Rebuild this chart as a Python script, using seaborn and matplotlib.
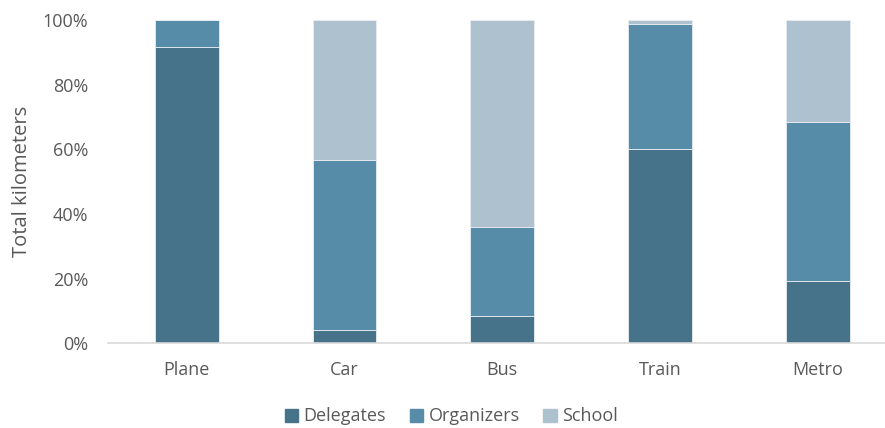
import pandas as pd
import numpy as np
import seaborn as sns
import matplotlib.pyplot as plt
from matplotlib.ticker import PercentFormatter

modes = ['Plane', 'Car', 'Bus', 'Train', 'Metro']
delegates = [91.6, 4.0, 8.3, 60.0, 19.4]
organizers = [8.4, 52.7, 27.8, 38.8, 49.1]
school = [0.0, 43.3, 63.9, 1.2, 31.5]

df = pd.DataFrame({'Mode': modes, 'Delegates': delegates,
                   'Organizers': organizers, 'School': school})
long = df.melt(id_vars='Mode', var_name='Group', value_name='Share')

custom_palette = {'Delegates': '#46728A', 'Organizers': '#568CA8', 'School': '#ADC1CE'}

sns.set_theme(style='white')
plt.rcParams['font.family'] = ['Open Sans', 'DejaVu Sans']

fig, ax = plt.subplots(figsize=(8.85, 4.28), dpi=100)
# histplot stacks the first hue on top, so reverse the order
sns.histplot(data=long, x='Mode', weights='Share', hue='Group',
             hue_order=['School', 'Organizers', 'Delegates'],
             multiple='stack', discrete=True, shrink=0.405,
             palette=custom_palette, alpha=1, edgecolor='#e8edf1',
             linewidth=0.6, ax=ax, legend=False)

ax.set_ylim(0, 100)
ax.set_xlim(-0.5, len(modes) - 0.5)
ax.yaxis.set_major_formatter(PercentFormatter(decimals=0))
ax.set_yticks(np.arange(0, 101, 20))
ax.set_xlabel('')
ax.set_ylabel('Total kilometers', fontsize=14.5, color='#595959', labelpad=8)
ax.tick_params(axis='both', labelsize=13, colors='#595959', length=0)
ax.tick_params(axis='x', pad=13)
ax.tick_params(axis='y', pad=14)
for s in ['top', 'right', 'left']:
    ax.spines[s].set_visible(False)
ax.spines['bottom'].set_color('#d9d9d9')
ax.spines['bottom'].set_linewidth(1.2)

handles = [plt.Rectangle((0, 0), 1, 1, color=custom_palette[g]) for g in ['Delegates', 'Organizers', 'School']]
fig.legend(handles, ['Delegates', 'Organizers', 'School'], loc='lower center',
           bbox_to_anchor=(0.51, -0.032), ncol=3, frameon=False, fontsize=13,
           handlelength=0.75, handleheight=0.75, handletextpad=0.3, columnspacing=1.3,
           labelcolor='#595959')

fig.subplots_adjust(left=0.122, right=1.013, top=0.953, bottom=0.198)
fig.savefig('out.png', dpi=100)
